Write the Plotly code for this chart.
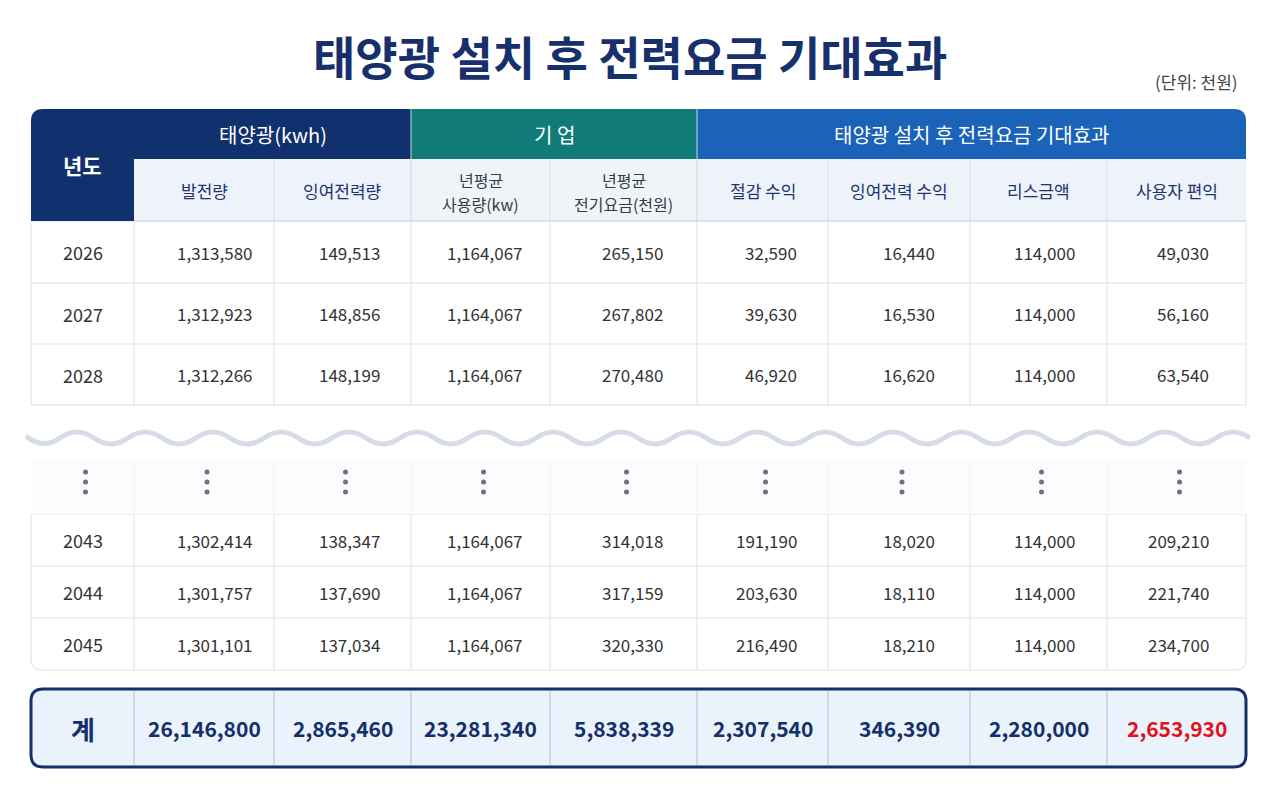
import plotly.graph_objects as go

# --- data ---
title = "태양광 설치 후 전력요금 기대효과"
unit_note = "(단위: 천원)"

group_headers = ["태양광(kwh)", "기 업", "태양광 설치 후 전력요금 기대효과"]
sub_headers = [["발전량"], ["잉여전력량"], ["년평균", "사용량(kw)"], ["년평균", "전기요금(천원)"],
               ["절감 수익"], ["잉여전력 수익"], ["리스금액"], ["사용자 편익"]]

years = ["2026", "2027", "2028", "2043", "2044", "2045"]
generation = [1313580, 1312923, 1312266, 1302414, 1301757, 1301101]
surplus = [149513, 148856, 148199, 138347, 137690, 137034]
usage = [1164067, 1164067, 1164067, 1164067, 1164067, 1164067]
bill = [265150, 267802, 270480, 314018, 317159, 320330]
savings = [32590, 39630, 46920, 191190, 203630, 216490]
surplus_income = [16440, 16530, 16620, 18020, 18110, 18210]
lease = [114000, 114000, 114000, 114000, 114000, 114000]
benefit = [49030, 56160, 63540, 209210, 221740, 234700]

total_label = "계"
totals = [26146800, 2865460, 23281340, 5838339, 2307540, 346390, 2280000, 2653930]

columns = [generation, surplus, usage, bill, savings, surplus_income, lease, benefit]

# --- layout geometry (screen pixels) ---
W, H = 1280, 787
OFF = 8  # body margin of the html page
COL_EDGES = [31, 134, 274, 411, 550, 697, 828, 970, 1107, 1246]
RIGHT_PAD = [19, 29, 25, 32, 29, 33, 30, 35]
HEAD_TOP, HEAD_MID, HEAD_BOT = 109, 159, 221
ROW_EDGES_TOP = [221, 283, 344, 405]
ROW_EDGES_BOT = [514, 566, 618, 670]
TOTAL_TOP, TOTAL_BOT = 689, 767

NAVY = "#10306e"
TEAL = "#117b77"
BLUE = "#1b63b8"
GRID = "#d9e1ee"
FONT = "Noto Sans CJK KR"


def rounded_path(x0, y0, x1, y1, r, tl=0, tr=0, br=0, bl=0):
    rtl, rtr, rbr, rbl = r * tl, r * tr, r * br, r * bl
    p = f"M {x0 + rtl} {y0} L {x1 - rtr} {y0} "
    p += f"Q {x1} {y0} {x1} {y0 + rtr} " if rtr else ""
    p += f"L {x1} {y1 - rbr} "
    p += f"Q {x1} {y1} {x1 - rbr} {y1} " if rbr else ""
    p += f"L {x0 + rbl} {y1} "
    p += f"Q {x0} {y1} {x0} {y1 - rbl} " if rbl else ""
    p += f"L {x0} {y0 + rtl} "
    p += f"Q {x0} {y0} {x0 + rtl} {y0} " if rtl else ""
    return p + "Z"


shapes = []
annotations = []


def rect(x0, y0, x1, y1, fill, line=None, width=0):
    shapes.append(dict(type="rect", x0=x0, y0=y0, x1=x1, y1=y1, fillcolor=fill,
                       line=dict(color=line or fill, width=width), layer="below"))


def hline(x0, x1, y, color=GRID, width=1):
    shapes.append(dict(type="line", x0=x0, x1=x1, y0=y, y1=y, line=dict(color=color, width=width)))


def vline(x, y0, y1, color=GRID, width=1):
    shapes.append(dict(type="line", x0=x, x1=x, y0=y0, y1=y1, line=dict(color=color, width=width)))


def text(x, y, s, size, color, anchor="center", bold=False):
    annotations.append(dict(x=x, y=y, text=f"<b>{s}</b>" if bold else s, showarrow=False,
                            xanchor=anchor, yanchor="middle",
                            font=dict(family=FONT, size=size, color=color)))


centers = [(COL_EDGES[i] + COL_EDGES[i + 1]) / 2 for i in range(len(COL_EDGES) - 1)]

# --- header ---
shapes.append(dict(type="path", path=rounded_path(31, HEAD_TOP, 134, HEAD_BOT, 12, tl=1),
                   fillcolor=NAVY, line=dict(width=0)))
rect(134, HEAD_TOP, 411, HEAD_MID, NAVY)
rect(411, HEAD_TOP, 697, HEAD_MID, TEAL)
shapes.append(dict(type="path", path=rounded_path(697, HEAD_TOP, 1246, HEAD_MID, 12, tr=1),
                   fillcolor=BLUE, line=dict(width=0)))
rect(134, HEAD_MID, 411, HEAD_BOT, "#eef2fa")
rect(411, HEAD_MID, 697, HEAD_BOT, "#eff5f6")
rect(697, HEAD_MID, 1246, HEAD_BOT, "#eef3fa")
for x in COL_EDGES[2:-1]:
    if x not in (411, 697):
        vline(x, HEAD_MID, HEAD_BOT)
vline(411, HEAD_TOP, HEAD_BOT, "#c9d6e8")
vline(697, HEAD_TOP, HEAD_BOT, "#c9d6e8")
hline(134, 1246, HEAD_BOT, "#cdd8ea")

text(centers[0], (HEAD_TOP + HEAD_BOT) / 2, "년도", 21, "white", bold=True)
text((134 + 411) / 2, (HEAD_TOP + HEAD_MID) / 2, group_headers[0], 20, "white")
text((411 + 697) / 2, (HEAD_TOP + HEAD_MID) / 2, group_headers[1], 20, "white")
text((697 + 1246) / 2, (HEAD_TOP + HEAD_MID) / 2, group_headers[2], 20, "white")
for i, lines in enumerate(sub_headers):
    color = "#333a4a" if i in (2, 3) else "#1d3372"
    if len(lines) == 1:
        text(centers[i + 1], (HEAD_MID + HEAD_BOT) / 2, lines[0], 17, color)
    else:
        text(centers[i + 1], 180, lines[0], 16, color)
        text(centers[i + 1], 204, lines[1], 16, color)

# --- body blocks ---
for block, edges in ((0, ROW_EDGES_TOP), (1, ROW_EDGES_BOT)):
    y0, y1 = edges[0], edges[-1]
    if block == 0:
        rect(31, y0, 1246, y1, "white", GRID, 1)
    else:
        shapes.append(dict(type="path", path=rounded_path(31, y0, 1246, y1, 10, br=1, bl=1),
                           fillcolor="white", line=dict(color=GRID, width=1), layer="below"))
    for y in edges[1:-1]:
        hline(31, 1246, y)
    for x in COL_EDGES[1:-1]:
        vline(x, y0, y1)
    for r in range(3):
        idx = block * 3 + r
        yc = (edges[r] + edges[r + 1]) / 2
        text(centers[0], yc, years[idx], 18, "#333333")
        for c, col in enumerate(columns):
            text(COL_EDGES[c + 2] - RIGHT_PAD[c], yc, f"{col[idx]:,}", 17, "#333333", anchor="right")

# --- gap: wave + ellipsis dots ---
rect(31, 460, 1246, 514, "#fcfcfe")
for x in COL_EDGES[1:-1]:
    vline(x, 462, 512, "#f2f4f7")
wave = "M 26 436"
x = 26
down = True
while x < 1248:
    ctrl = 450 if down else 426
    wave += f" Q {x + 17} {ctrl} {x + 34} 438"
    x += 34
    down = not down
shapes.append(dict(type="path", path=wave, line=dict(color="#d6dce6", width=5)))

dot_x = [c + 3 for c in centers for _ in range(3)]
dot_y = [472, 482, 492] * len(centers)

# --- total row ---
shapes.append(dict(type="path", path=rounded_path(31, TOTAL_TOP, 1246, TOTAL_BOT, 12, 1, 1, 1, 1),
                   fillcolor="#eaf2fb", line=dict(color="#15306a", width=3)))
for x in COL_EDGES[1:-1]:
    vline(x, TOTAL_TOP + 2, TOTAL_BOT - 2, "#a9c0e0")
yc = (TOTAL_TOP + TOTAL_BOT) / 2
text(centers[0], yc, total_label, 26, "#13306a", bold=True)
for i, v in enumerate(totals):
    color = "#e0121b" if i == len(totals) - 1 else "#13306a"
    text(centers[i + 1], yc, f"{v:,}", 21, color, bold=True)

# --- title ---
text(630, 55, title, 46, "#17306b", bold=True)
text(1240, 81, unit_note, 17, "#444444", anchor="right")

fig = go.Figure()
fig.add_trace(go.Scatter(x=dot_x, y=dot_y, mode="markers",
                         marker=dict(size=5, color="#6b7280"), hoverinfo="skip"))
fig.update_layout(
    width=W - 2 * OFF, height=H - 2 * OFF,
    margin=dict(l=0, r=0, t=0, b=0),
    paper_bgcolor="white", plot_bgcolor="white",
    showlegend=False,
    xaxis=dict(range=[OFF, W - OFF], visible=False, fixedrange=True),
    yaxis=dict(range=[H - OFF, OFF], visible=False, fixedrange=True),
    shapes=shapes,
    annotations=annotations,
)
fig.write_html("out.html")
